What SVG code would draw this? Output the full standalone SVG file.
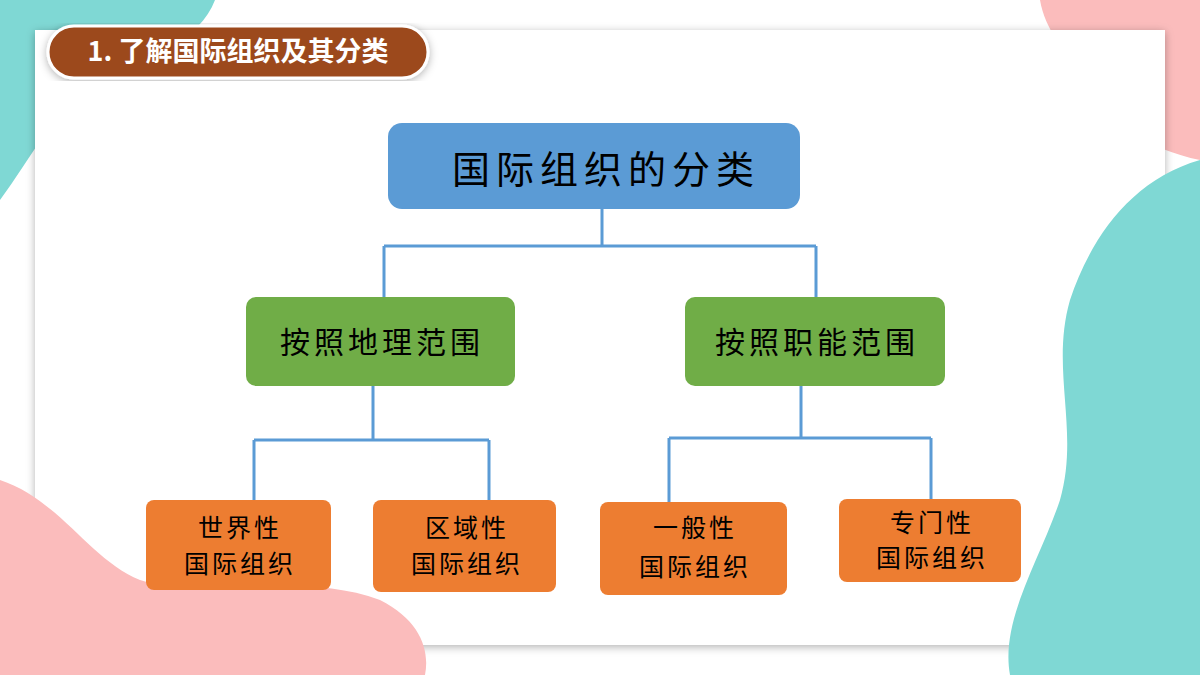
<svg xmlns="http://www.w3.org/2000/svg" width="1200" height="675" viewBox="0 0 1200 675">
<defs>
<style>
.n{font-family:"Noto Sans CJK SC",sans-serif;fill:#000;text-anchor:middle}
.c{fill:none;stroke:#5B9BD5;stroke-width:3}
</style>
<filter id="sh" x="-5%" y="-5%" width="110%" height="110%"><feDropShadow dx="0" dy="2" stdDeviation="4" flood-opacity="0.3"/></filter>
</defs>
<rect width="1200" height="675" fill="#fff"/>
<path d="M0 0H215C200 40 150 60 100 80 60 100 30 160 0 200Z" fill="#7fd8d4"/>
<path d="M1040 0H1200V160C1150 150 1100 120 1080 80 1065 50 1045 30 1040 0Z" fill="#fbbcbc"/>
<rect x="35" y="30" width="1130" height="615" fill="#fff" filter="url(#sh)"/>
<path d="M0 480C60 500 90 560 140 580 200 600 300 570 380 600 420 620 430 650 425 675H0Z" fill="#fbbcbc"/>
<path d="M1200 160C1130 180 1090 240 1070 300 1050 370 1080 430 1060 500 1040 560 1000 620 1010 675H1200Z" fill="#7fd8d4"/>
<g id="title">
<rect x="48" y="26" width="380" height="52" rx="26" fill="#9C4A1E" stroke="#fff" stroke-width="3" filter="url(#sh)"/>
<text x="238" y="61" font-family="Noto Sans CJK SC,sans-serif" font-weight="bold" font-size="27" fill="#fff" text-anchor="middle">1. 了解国际组织及其分类</text>
</g>
<g id="connectors">
<path class="c" d="M602 209V246M384 246H816M384 246V297M816 246V297"/>
<path class="c" d="M373 386V440M254 440H489M254 440V500M489 440V500"/>
<path class="c" d="M801 386V438M669 438H931M669 438V502M931 438V499"/>
</g>
<g id="root"><rect x="388" y="123" width="412" height="86" rx="14" fill="#5B9BD5"/><text class="n" x="606" y="183" font-size="38" letter-spacing="6">国际组织的分类</text></g>
<g id="geo"><rect x="246" y="297" width="269" height="89" rx="10" fill="#70AD47"/><text class="n" x="382" y="353" font-size="30" letter-spacing="4">按照地理范围</text></g>
<g id="func"><rect x="685" y="297" width="260" height="89" rx="10" fill="#70AD47"/><text class="n" x="817" y="353" font-size="30" letter-spacing="4">按照职能范围</text></g>
<g id="world"><rect x="146" y="500" width="185" height="90" rx="8" fill="#ED7D31"/><text class="n" x="240" y="537" font-size="25" letter-spacing="3">世界性</text><text class="n" x="240" y="573" font-size="25" letter-spacing="3">国际组织</text></g>
<g id="region"><rect x="373" y="500" width="183" height="92" rx="8" fill="#ED7D31"/><text class="n" x="467" y="537" font-size="25" letter-spacing="3">区域性</text><text class="n" x="467" y="573" font-size="25" letter-spacing="3">国际组织</text></g>
<g id="general"><rect x="600" y="502" width="187" height="93" rx="8" fill="#ED7D31"/><text class="n" x="695" y="537" font-size="25" letter-spacing="3">一般性</text><text class="n" x="695" y="576" font-size="25" letter-spacing="3">国际组织</text></g>
<g id="special"><rect x="839" y="499" width="182" height="83" rx="8" fill="#ED7D31"/><text class="n" x="932" y="532" font-size="25" letter-spacing="3">专门性</text><text class="n" x="932" y="567" font-size="25" letter-spacing="3">国际组织</text></g>
</svg>
